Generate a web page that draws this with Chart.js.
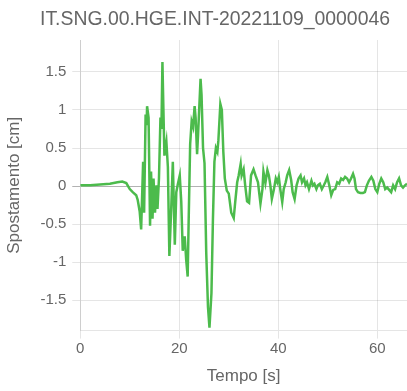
<!DOCTYPE html>
<html>
<head>
<meta charset="utf-8">
<script src="https://cdn.jsdelivr.net/npm/chart.js@4"></script>
<style>
  html, body { margin: 0; padding: 0; background: #fff; overflow: hidden; }
  #wrap { width: 407px; height: 391px; }
</style>
</head>
<body>
<div id="wrap"><canvas id="chart"></canvas></div>
<script>
// Trace (time in s, displacement in cm)
const tempo = [0, 2, 4, 6, 7.5, 8.5, 9.3, 10, 10.6, 11.3, 11.6, 12.0, 12.3, 12.7, 12.9, 13.2, 13.4, 13.5, 13.8, 14.1,
  14.3, 14.6, 14.8, 15.1, 15.4, 15.6, 15.9, 16.2, 16.4, 16.6, 16.8, 17.0, 17.4, 17.7, 18.0, 18.4, 18.7, 19.1, 19.4, 19.7,
  20.1, 20.4, 20.7, 21.1, 21.4, 21.7, 21.9, 22.2, 22.5, 22.8, 23.1, 23.3, 23.6, 23.8, 24.3, 24.5, 24.8, 25.1, 25.45, 25.8,
  26.1, 26.5, 26.8, 27.1, 27.4, 27.7, 27.9, 28.3, 28.6, 28.9, 29.2, 29.6, 30.0, 30.5, 31.0, 31.3, 31.7, 32.0, 32.4, 32.6,
  33.0, 33.3, 33.7, 34.1, 34.5, 35.0, 35.4, 35.9, 36.2, 36.4, 36.8, 37.0, 37.4, 37.8, 38.1, 38.4, 38.7, 39.1, 39.5, 39.8,
  40.1, 40.4, 40.8, 41.1, 41.5, 41.8, 42.2, 42.6, 42.9, 43.3, 43.7, 44.1, 44.5, 44.8, 45.2, 45.5, 45.8, 46.2, 46.7, 47.0,
  47.3, 47.7, 48.0, 48.4, 48.8, 49.2, 49.5, 49.9, 50.3, 50.7, 51.1, 51.5, 51.9, 52.3, 52.7, 53.1, 53.5, 53.9, 54.3, 54.7,
  55.1, 55.4, 55.7, 56.1, 56.6, 57.1, 57.5, 57.9, 58.3, 58.8, 59.2, 59.6, 60.0, 60.4, 60.8, 61.2, 61.6, 62.0, 62.4, 62.8,
  63.2, 63.6, 64.0, 64.4, 64.8, 65.2, 65.6, 66.0];
const spostamento = [0.01, 0.01, 0.02, 0.03, 0.05, 0.06, 0.04, -0.04, -0.08, -0.12, -0.18, -0.33, -0.57, 0.32, -0.35, 0.94, 0.8, 1.05, 0.9, -0.52,
  0.19, -0.43, 0.1, -0.35, 0.01, -0.3, 0.1, 0.9, 0.75, 1.63, 1.0, 0.4, 0.58, 0.25, -0.92, -0.25, 0.32, -0.77, -0.08, 0.02,
  0.14, -0.2, -0.85, -0.66, -0.97, -1.19, -0.45, 0.55, 0.85, 0.78, 1.05, 0.9, 0.42, 0.68, 1.41, 1.2, 0.5, 0.3, -0.88, -1.59,
  -1.86, -1.41, -0.44, 0.32, 0.5, 0.45, 0.6, 1.08, 1.0, 0.45, 0.1, -0.06, -0.1, -0.35, -0.42, -0.21, 0.05, 0.14, 0.29, 0.14,
  0.22, 0.02, -0.2, -0.22, 0.14, 0.22, 0.14, 0.05, -0.12, -0.23, -0.04, 0.19, 0.04, 0.21, 0.14, 0.01, -0.17, -0.05, 0.1, 0.05,
  0.12, -0.04, -0.21, -0.04, 0.05, 0.14, 0.21, 0.08, -0.08, -0.17, 0.01, 0.1, 0.14, 0.05, 0.1, 0.01, 0.05, -0.04, 0.07, 0.01,
  0.03, -0.04, 0.01, 0.03, -0.04, 0.01, 0.05, 0.12, 0.01, -0.12, -0.05, -0.04, 0.05, 0.03, 0.1, 0.08, 0.12, 0.1, 0.05, 0.1,
  0.16, 0.1, -0.04, -0.08, -0.09, -0.09, -0.08, 0.01, 0.07, 0.12, 0.07, -0.04, -0.08, 0.03, 0.1, 0.05, -0.04, -0.02, -0.05, -0.08,
  0.01, -0.04, 0.05, 0.1, 0.01, -0.02, 0.01, 0.03];
const xTicks = [0, 20, 40, 60];
const yTicks = [-1.5, -1, -0.5, 0, 0.5, 1, 1.5];
const titolo = 'IT.SNG.00.HGE.INT-20221109_0000046';

const points = tempo.map((t, i) => ({x: t, y: spostamento[i]}));

Chart.defaults.font.family = "'Liberation Sans', Arial, sans-serif";
Chart.defaults.color = '#666';

// title sits a bit right of the canvas centre in the reference, so draw it by hand
const offsetTitle = {
  id: 'offsetTitle',
  afterDraw(chart) {
    const c = chart.ctx;
    c.save();
    c.font = "19.4px 'Liberation Sans', Arial, sans-serif";
    c.fillStyle = '#666';
    c.textAlign = 'center';
    c.textBaseline = 'alphabetic';
    c.fillText(titolo, 215, 25);
    c.restore();
  }
};

const ctx = document.getElementById('chart').getContext('2d');
new Chart(ctx, {
  type: 'line',
  data: {
    datasets: [{
      label: 'HGE',
      data: points,
      borderColor: '#4cbb4c',
      borderWidth: 2.5,
      pointRadius: 0,
      fill: false,
      tension: 0
    }]
  },
  options: {
    responsive: true,
    maintainAspectRatio: false,
    animation: false,
    layout: {padding: {top: 40}},
    plugins: {
      legend: {display: false},
      tooltip: {enabled: false},
      title: {display: false}
    },
    scales: {
      x: {
        type: 'linear', min: 0, max: 66,
        ticks: {stepSize: 20, includeBounds: false, font: {size: 15}, maxRotation: 0, padding: 1,
          callback: v => xTicks.includes(v) ? v : ''},
        title: {display: true, text: 'Tempo [s]', font: {size: 17}, padding: {top: 8, bottom: 4}}
      },
      y: {
        min: -1.9, max: 1.92,
        ticks: {stepSize: 0.5, includeBounds: false, font: {size: 15}, padding: 6,
          callback: v => yTicks.includes(v) ? v : ''},
        grid: {color: c => c.tick && c.tick.value === 0 ? 'rgba(0,0,0,0.3)' : 'rgba(0,0,0,0.1)'},
        title: {display: true, text: 'Spostamento [cm]', font: {size: 17}, padding: {top: 4, bottom: 10}}
      }
    }
  },
  plugins: [offsetTitle]
});
</script>
</body>
</html>
